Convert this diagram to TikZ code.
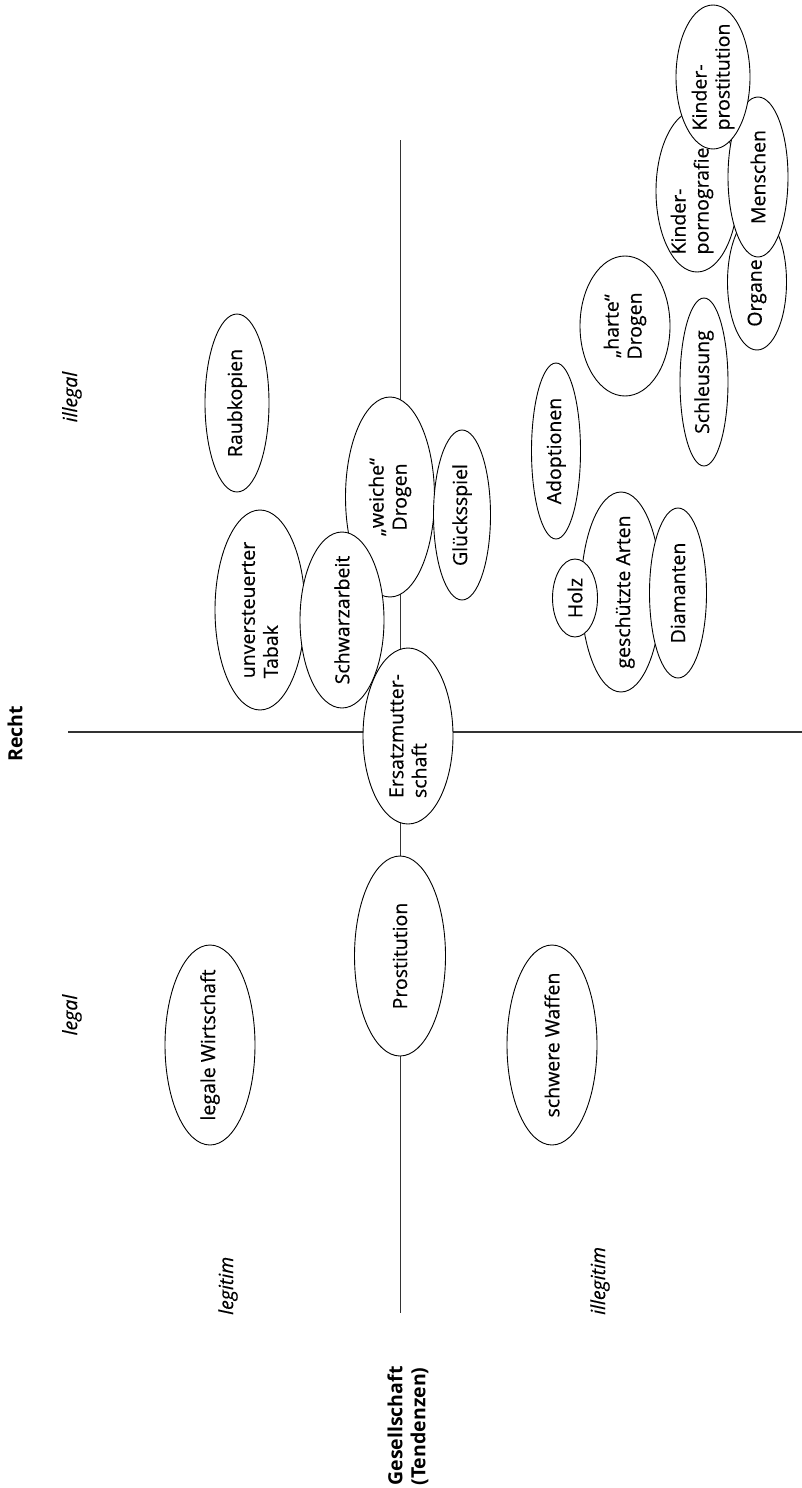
\documentclass[tikz,border=0pt]{standalone}
\usepackage{fontspec}
\setmainfont{Open Sans}[UprightFeatures={FakeBold=0.4}, ItalicFeatures={FakeBold=0.4}]
\usetikzlibrary{shapes.geometric}
\tikzset{
  blob/.style={ellipse, draw=black, line width=0.9pt, fill=white, inner sep=0pt, outer sep=0pt},
  lbl/.style={rotate=90, inner sep=0pt, align=left, font=\fontsize{19.5}{23}\selectfont},
  lblc/.style={lbl, align=center},
  axis/.style={draw=black!80, line width=1.2pt},
  head/.style={rotate=90, inner sep=0pt, align=left, font=\fontsize{19.5}{23}\selectfont\bfseries},
  side/.style={rotate=90, inner sep=0pt, font=\fontsize{19.5}{23}\selectfont\itshape},
}
\newcommand{\blobnode}[5]{%
  \node[blob, minimum width=#4pt, minimum height=#5pt] (#1) at (#2,#3) {};}
\begin{document}
\begin{tikzpicture}[x=1pt, y=-1pt]
\useasboundingbox (0,0) rectangle (802,1488);
% axes
\coordinate (vtop) at (400.5,140);
\coordinate (vbot) at (400.5,1313);
\coordinate (hl) at (68,732);
\coordinate (hr) at (802,732);
\draw[axis] (vtop) -- (vbot);
\draw[axis] (hl) -- (hr);
% axis labels
\node[head] (recht) at (15,734) {Recht};
\node[head] (ges) at (408,1426) {Gesellschaft\\(Tendenzen)};
\node[side] (illegal) at (72,397) {illegal};
\node[side] (legal) at (72,1015) {legal};
\node[side, anchor=west] (legitim) at (228,1315) {legitim};
\node[side, anchor=west] (illegitim) at (600,1315) {illegitim};
% ellipses
\blobnode{raub}{237}{403}{64}{178}
\blobnode{tabak}{260}{610}{90}{200}
\blobnode{weiche}{390}{497}{89}{200}
\blobnode{schwarz}{342}{620}{84}{176}
\blobnode{gluck}{462}{515}{57}{170}
\blobnode{ersatz}{408}{736}{90}{176}
\blobnode{prost}{400}{956}{91}{200}
\blobnode{legale}{210}{1045}{90}{200}
\blobnode{waffen}{552}{1045}{90}{200}
\blobnode{adopt}{556}{451}{49}{176}
\blobnode{gesch}{621}{592}{80}{200}
\blobnode{holz}{575}{598}{45}{78}
\blobnode{diam}{678}{593}{57}{170}
\blobnode{schleus}{704}{382}{48}{168}
\blobnode{harte}{625}{326}{90}{140}
\blobnode{organe}{757}{282}{59}{136}
\blobnode{kporno}{697}{191}{82}{162}
\blobnode{menschen}{758}{177}{60}{160}
\blobnode{kprost}{713}{77}{74}{144}
% labels
\node[lbl] (raub-t) at (raub) {Raubkopien};
\node[lbl] (tabak-t) at (tabak) {unversteuerter\\Tabak};
\node[lblc] (weiche-t) at (weiche) {„weiche“\\Drogen};
\node[lbl] (schwarz-t) at (schwarz) {Schwarzarbeit};
\node[lbl] (gluck-t) at (gluck) {Glücksspiel};
\node[lbl] (ersatz-t) at (ersatz) {Ersatzmutter-\\schaft};
\node[lbl] (prost-t) at (prost) {Prostitution};
\node[lbl] (legale-t) at (legale) {legale Wirtschaft};
\node[lbl] (waffen-t) at (waffen) {schwere Waffen};
\node[lbl] (adopt-t) at (adopt) {Adoptionen};
\node[lbl] (gesch-t) at ([xshift=4pt]gesch.center) {geschützte Arten};
\node[lbl] (holz-t) at (holz) {Holz};
\node[lbl] (diam-t) at (diam) {Diamanten};
\node[lbl] (schleus-t) at (schleus) {Schleusung};
\node[lblc] (harte-t) at (harte) {„harte“\\Drogen};
\node[lbl] (organe-t) at ([yshift=-11pt]organe.center) {Organe};
\node[lbl] (kporno-t) at ([xshift=-5pt, yshift=-10pt]kporno.center) {Kinder-\\pornografie};
\node[lbl] (menschen-t) at (menschen) {Menschen};
\node[lbl] (kprost-t) at (kprost) {Kinder-\\prostitution};
\end{tikzpicture}
\end{document}
